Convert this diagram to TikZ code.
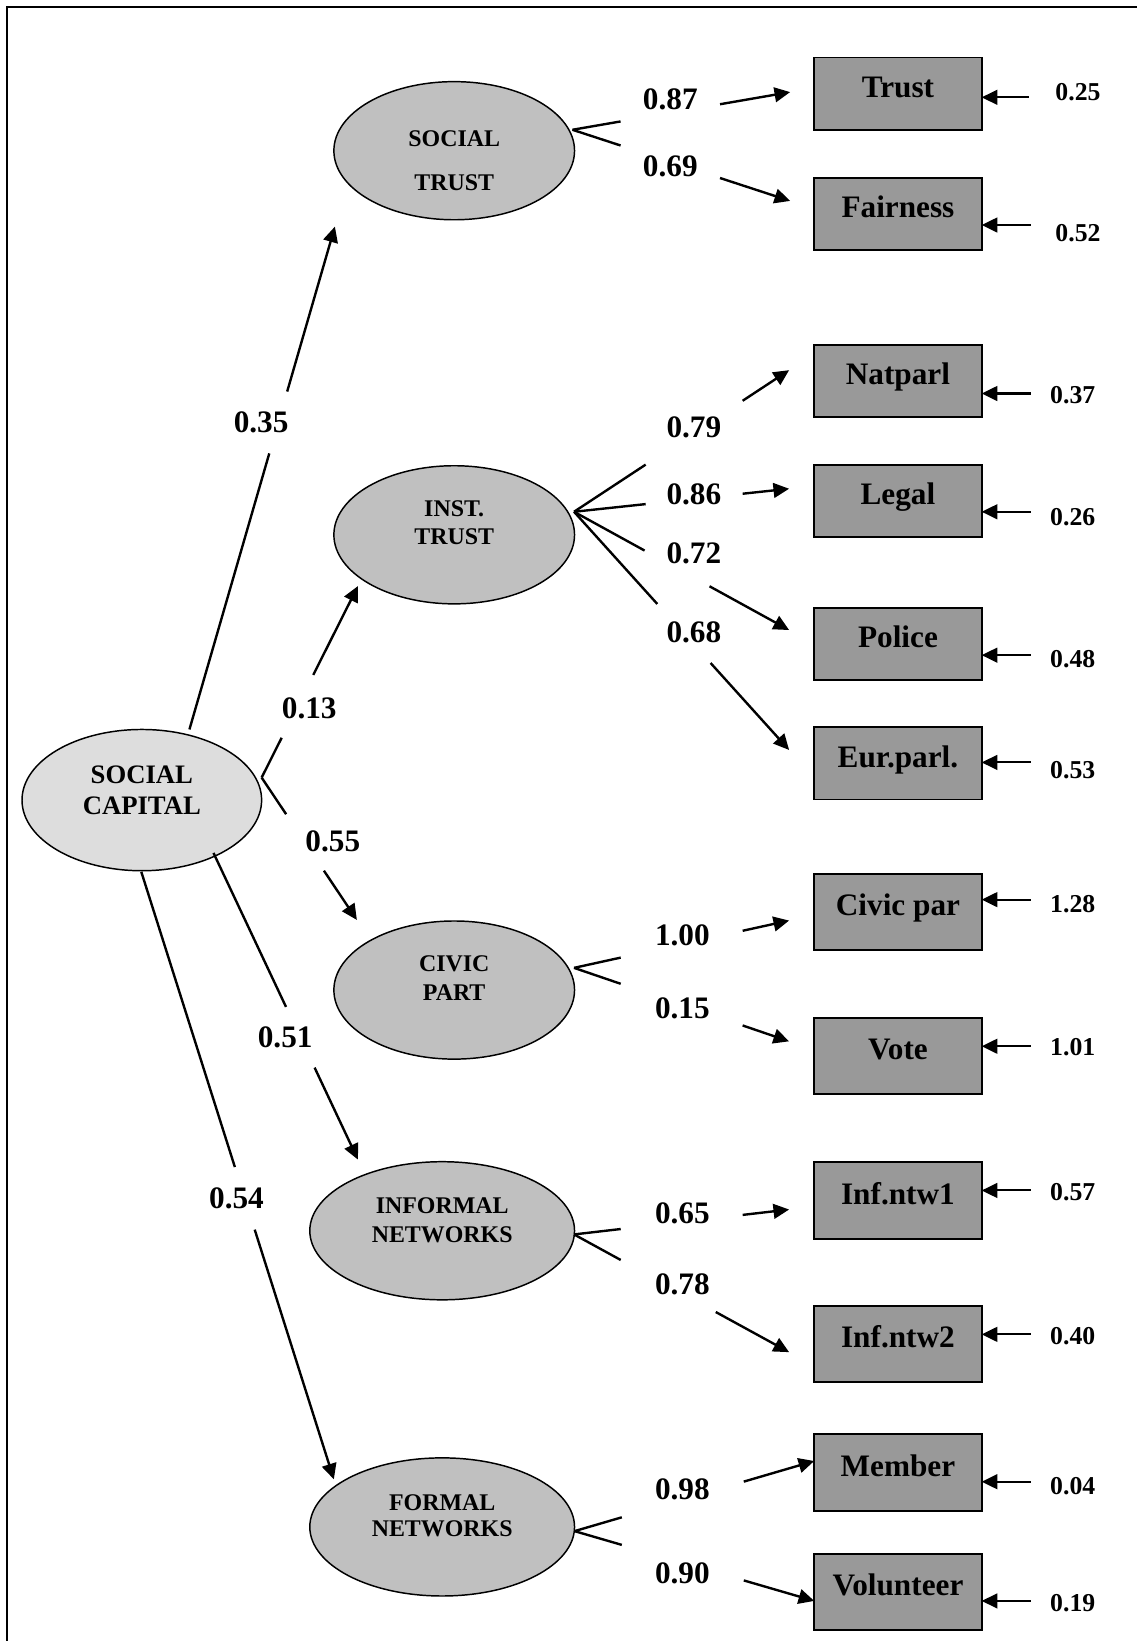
\documentclass[tikz,border=0pt]{standalone}
\usepackage{fontspec}
\setmainfont{Liberation Serif}
\usepackage{tikz}
\usetikzlibrary{calc,shapes.geometric,arrows.meta}
\definecolor{latfill}{HTML}{C0C0C0}
\definecolor{capfill}{HTML}{DDDDDD}
\definecolor{obsfill}{HTML}{999999}

\begin{document}
\begin{tikzpicture}[x=0.02cm,y=-0.02cm,
    latent/.style={ellipse,draw,line width=0.8pt,fill=latfill,outer sep=0pt,minimum width=4.6cm,minimum height=2.64cm},
    lattext/.style={font=\bfseries\fontsize{13}{15.5}\selectfont,align=center,inner sep=0pt},
    obs/.style={rectangle,draw,line width=1pt,fill=obsfill,outer sep=0pt,minimum width=3.2cm,minimum height=1.38cm,font=\bfseries\fontsize{17}{20}\selectfont,text height=12pt,text depth=8pt},
    coef/.style={font=\bfseries\fontsize{17}{20}\selectfont,inner sep=0pt},
    errlab/.style={font=\bfseries\fontsize{14}{16}\selectfont,inner sep=0pt},
    seg/.style={line width=1.3pt},
    arr/.style={line width=1.3pt,-{Triangle[length=8.5pt,width=8pt]}}]

      \useasboundingbox (0,0) rectangle (1086,1568);
      \draw [line width=1pt] (6.5,1568) -- (6.5,7) -- (1086,7);

      % latent variables
      \node [latent,fill=capfill,minimum width=4.58cm,minimum height=2.7cm] (sc) at (135.5,764.5) {};
      \node [latent] (st) at (434,144) {};
      \node [latent] (it) at (434,511) {};
      \node [latent] (cp) at (434,946) {};
      \node [latent,minimum width=5.06cm] (inf) at (422.5,1176) {};
      \node [latent,minimum width=5.06cm] (fn) at (422.5,1459) {};
      \node [lattext,font=\bfseries\fontsize{14.5}{17}\selectfont] (sc-t) at (135.5,755) {SOCIAL\\CAPITAL};
      \node [lattext] (st-t) at (434,154) {SOCIAL\\[8.4pt]TRUST};
      \node [lattext] (it-t) at (434,499.5) {INST.\\TRUST};
      \node [lattext] (cp-t) at (434,934.5) {CIVIC\\PART};
      \node [lattext] (inf-t) at (422.5,1166) {INFORMAL\\NETWORKS};
      \node [lattext] (fn-t) at (422.5,1448.5) {FORMAL\\[-1.3pt]NETWORKS};

      % indicators
      \node [obs] (trust) at (858,89.5) {Trust};
      \node [obs] (fair) at (858,204.5) {Fairness};
      \node [obs] (natp) at (858,364) {Natparl};
      \node [obs] (legal) at (858,478.5) {Legal};
      \node [obs] (police) at (858,615.5) {Police};
      \node [obs] (eurp) at (858,729.5) {Eur.parl.};
      \node [obs,minimum height=1.46cm] (civic) at (858,871.5) {Civic par};
      \node [obs,minimum height=1.46cm] (vote) at (858,1009) {Vote};
      \node [obs,minimum height=1.46cm] (inf1) at (858,1147) {Inf.ntw1};
      \node [obs,minimum height=1.46cm] (inf2) at (858,1284) {Inf.ntw2};
      \node [obs,minimum height=1.46cm] (member) at (858,1407) {Member};
      \node [obs,minimum height=1.46cm] (volun) at (858,1521) {Volunteer};

      % social capital -> latent factors
      \coordinate (sc-a) at (181,697);
      \coordinate (sc-b) at (250,743);
      \coordinate (sc-c) at (204,815);
      \coordinate (sc-d) at (135,833);
      \coordinate (st-in) at (320,216.5);
      \coordinate (it-in) at (342,560);
      \coordinate (cp-in) at (341,879);
      \coordinate (inf-in) at (342,1108);
      \coordinate (fn-in) at (319,1413.5);
      \draw [seg] (sc-a) -- ($(sc-a)!0.549!(st-in)$);
      \draw [arr] ($(sc-a)!0.672!(st-in)$) -- (st-in);
      \draw [seg] (sc-b) -- ($(sc-b)!0.208!(it-in)$);
      \draw [arr] ($(sc-b)!0.536!(it-in)$) -- (it-in);
      \draw [seg] (sc-b) -- ($(sc-b)!0.257!(cp-in)$);
      \draw [arr] ($(sc-b)!0.654!(cp-in)$) -- (cp-in);
      \draw [seg] (sc-c) -- ($(sc-c)!0.502!(inf-in)$);
      \draw [arr] ($(sc-c)!0.700!(inf-in)$) -- (inf-in);
      \draw [seg] (sc-d) -- ($(sc-d)!0.486!(fn-in)$);
      \draw [arr] ($(sc-d)!0.589!(fn-in)$) -- (fn-in);
      \node [coef] (p-st) at (249.5,404) {0.35};
      \node [coef] (p-it) at (295.5,676.5) {0.13};
      \node [coef] (p-cp) at (318,803.5) {0.55};
      \node [coef] (p-inf) at (272.5,991.5) {0.51};
      \node [coef] (p-fn) at (226,1145) {0.54};

      % loadings
      \coordinate (st-v) at (547,124);
      \coordinate (it-v) at (548.5,489);
      \coordinate (cp-v) at (548.5,924.8);
      \coordinate (inf-v) at (548.5,1179.5);
      \coordinate (fn-v) at (549,1463);
      \coordinate (trust-in) at (755,88);
      \coordinate (fair-in) at (755,192);
      \coordinate (natp-in) at (754,353.7);
      \coordinate (legal-in) at (754,467);
      \coordinate (police-in) at (754,602);
      \coordinate (eurp-in) at (754,716.6);
      \coordinate (civic-in) at (754,879.6);
      \coordinate (vote-in) at (754,995);
      \coordinate (inf1-in) at (754,1155.7);
      \coordinate (inf2-in) at (754,1292);
      \coordinate (member-in) at (member.west |- 0,1396);
      \coordinate (volun-in) at (volun.west |- 0,1529.7);
      \draw [seg] (st-v) -- ($(st-v)!0.221!(trust-in)$);
      \draw [arr] ($(st-v)!0.678!(trust-in)$) -- (trust-in);
      \draw [seg] (st-v) -- ($(st-v)!0.221!(fair-in)$);
      \draw [arr] ($(st-v)!0.678!(fair-in)$) -- (fair-in);
      \draw [seg] (it-v) -- ($(it-v)!0.333!(natp-in)$);
      \draw [arr] ($(it-v)!0.784!(natp-in)$) -- (natp-in);
      \draw [seg] (it-v) -- ($(it-v)!0.333!(legal-in)$);
      \draw [arr] ($(it-v)!0.784!(legal-in)$) -- (legal-in);
      \draw [seg] (it-v) -- ($(it-v)!0.328!(police-in)$);
      \draw [arr] ($(it-v)!0.630!(police-in)$) -- (police-in);
      \draw [seg] (it-v) -- ($(it-v)!0.387!(eurp-in)$);
      \draw [arr] ($(it-v)!0.635!(eurp-in)$) -- (eurp-in);
      \draw [seg] (cp-v) -- ($(cp-v)!0.217!(civic-in)$);
      \draw [arr] ($(cp-v)!0.784!(civic-in)$) -- (civic-in);
      \draw [seg] (cp-v) -- ($(cp-v)!0.217!(vote-in)$);
      \draw [arr] ($(cp-v)!0.784!(vote-in)$) -- (vote-in);
      \draw [seg] (inf-v) -- ($(inf-v)!0.217!(inf1-in)$);
      \draw [arr] ($(inf-v)!0.784!(inf1-in)$) -- (inf1-in);
      \draw [seg] (inf-v) -- ($(inf-v)!0.217!(inf2-in)$);
      \draw [arr] ($(inf-v)!0.659!(inf2-in)$) -- (inf2-in);
      \draw [seg] (fn-v) -- ($(fn-v)!0.197!(member-in)$);
      \draw [arr] ($(fn-v)!0.706!(member-in)$) -- (member-in);
      \draw [seg] (fn-v) -- ($(fn-v)!0.197!(volun-in)$);
      \draw [arr] ($(fn-v)!0.706!(volun-in)$) -- (volun-in);
      \node [coef] (l-trust) at (640.5,95) {0.87};
      \node [coef] (l-fair) at (640.5,158.5) {0.69};
      \node [coef] (l-natp) at (663,408.5) {0.79};
      \node [coef] (l-legal) at (663,472) {0.86};
      \node [coef] (l-police) at (663,529) {0.72};
      \node [coef] (l-eurp) at (663,604.5) {0.68};
      \node [coef] (l-civic) at (652,894) {1.00};
      \node [coef] (l-vote) at (652,963) {0.15};
      \node [coef] (l-inf1) at (652,1159) {0.65};
      \node [coef] (l-inf2) at (652,1227) {0.78};
      \node [coef] (l-member) at (652,1423) {0.98};
      \node [coef] (l-volun) at (652,1503) {0.90};

      % error terms
      \draw [arr,line width=1.1pt] (983,93) -- (trust.east |- 0,93);
      \draw [arr,line width=1.1pt] (985,215) -- (fair.east |- 0,215);
      \draw [arr,line width=1.1pt] (985,376) -- (natp.east |- 0,376);
      \draw [arr,line width=1.1pt] (985,489) -- (legal.east |- 0,489);
      \draw [arr,line width=1.1pt] (985,626) -- (police.east |- 0,626);
      \draw [arr,line width=1.1pt] (985,728.5) -- (eurp.east |- 0,728.5);
      \draw [arr,line width=1.1pt] (985,859.6) -- (civic.east |- 0,859.6);
      \draw [arr,line width=1.1pt] (985,999.7) -- (vote.east |- 0,999.7);
      \draw [arr,line width=1.1pt] (985,1137.5) -- (inf1.east |- 0,1137.5);
      \draw [arr,line width=1.1pt] (985,1275) -- (inf2.east |- 0,1275);
      \draw [arr,line width=1.1pt] (985,1415.8) -- (member.east |- 0,1415.8);
      \draw [arr,line width=1.1pt] (985,1529.7) -- (volun.east |- 0,1529.7);
      \node [errlab] (e-trust) at (1030,88) {0.25};
      \node [errlab] (e-fair) at (1030,223) {0.52};
      \node [errlab] (e-natp) at (1025,378) {0.37};
      \node [errlab] (e-legal) at (1025,494) {0.26};
      \node [errlab] (e-police) at (1025,630) {0.48};
      \node [errlab] (e-eurp) at (1025,736) {0.53};
      \node [errlab] (e-civic) at (1025,864) {1.28};
      \node [errlab] (e-vote) at (1025,1001) {1.01};
      \node [errlab] (e-inf1) at (1025,1139.5) {0.57};
      \node [errlab] (e-inf2) at (1025,1276.5) {0.40};
      \node [errlab] (e-member) at (1025,1420) {0.04};
      \node [errlab] (e-volun) at (1025,1532) {0.19};
\end{tikzpicture}
\end{document}
